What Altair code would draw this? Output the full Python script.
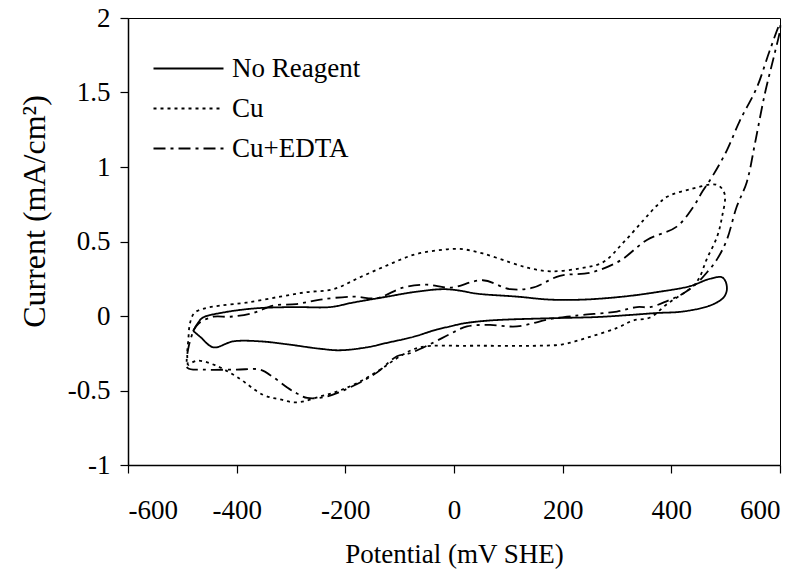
import altair as alt
import pandas as pd

series_names = ["No Reagent", "Cu", "Cu+EDTA"]

no_reagent_x = [-480, -470, -462, -430, -370, -296, -228, -186, -123, -75, -20, 11, 42, 116, 177, 237, 311, 373, 434, 471, 493, 500, 502, 495, 471, 421, 373, 324, 263, 177, 66, 17, -7, -31, -75, -123, -160, -210, -246, -307, -357, -406, -443, -467, -480]
no_reagent_y = [-0.10, -0.04, -0.01, 0.02, 0.05, 0.06, 0.06, 0.09, 0.13, 0.16, 0.18, 0.17, 0.15, 0.13, 0.11, 0.11, 0.13, 0.16, 0.20, 0.25, 0.26, 0.23, 0.17, 0.12, 0.07, 0.03, 0.02, 0.007, -0.007, -0.015, -0.03, -0.05, -0.07, -0.09, -0.14, -0.18, -0.21, -0.23, -0.22, -0.19, -0.17, -0.17, -0.21, -0.14, -0.10]

cu_x = [-490, -491, -489, -486, -478, -460, -430, -381, -320, -271, -222, -173, -123, -75, -31, 11, 53, 103, 140, 177, 232, 274, 311, 348, 373, 392, 434, 484, 498, 493, 484, 465, 452, 440, 392, 361, 330, 300, 250, 200, 145, 85, 24, -63, -99, -136, -173, -210, -246, -290, -320, -351, -399, -440, -473, -490]
cu_y = [-0.33, -0.25, -0.16, -0.05, 0.02, 0.05, 0.07, 0.09, 0.13, 0.16, 0.18, 0.26, 0.34, 0.41, 0.44, 0.45, 0.42, 0.36, 0.32, 0.30, 0.32, 0.36, 0.49, 0.64, 0.74, 0.80, 0.85, 0.88, 0.82, 0.66, 0.53, 0.38, 0.26, 0.20, 0.08, -0.01, -0.03, -0.08, -0.14, -0.19, -0.20, -0.20, -0.20, -0.21, -0.27, -0.36, -0.44, -0.50, -0.54, -0.58, -0.56, -0.53, -0.41, -0.33, -0.30, -0.33]

edta_x = [-480, -470, -443, -412, -370, -333, -290, -246, -186, -142, -94, -50, -7, 53, 103, 145, 195, 250, 305, 355, 410, 440, 458, 476, 502, 526, 557, 581, 600, 600, 590, 572, 554, 539, 520, 502, 484, 465, 447, 421, 392, 361, 337, 300, 237, 208, 177, 116, 66, 24, -7, -39, -81, -105, -142, -186, -234, -270, -289, -307, -333, -357, -400, -460, -490, -492, -488, -480]
edta_y = [-0.10, -0.05, -0.005, -0.005, 0.02, 0.07, 0.08, 0.11, 0.13, 0.12, 0.19, 0.21, 0.19, 0.24, 0.18, 0.19, 0.27, 0.29, 0.37, 0.51, 0.60, 0.73, 0.84, 0.94, 1.11, 1.31, 1.53, 1.78, 1.96, 1.92, 1.76, 1.49, 1.16, 0.90, 0.73, 0.51, 0.38, 0.29, 0.22, 0.15, 0.10, 0.06, 0.06, 0.03, 0.007, -0.005, -0.02, -0.07, -0.06, -0.07, -0.12, -0.18, -0.25, -0.27, -0.38, -0.47, -0.54, -0.55, -0.52, -0.48, -0.41, -0.36, -0.36, -0.36, -0.35, -0.30, -0.20, -0.10]

x_ticks = [-600, -400, -200, 0, 200, 400, 600]
y_ticks = [-1, -0.5, 0, 0.5, 1, 1.5, 2]

rows = []
for name, xs, ys in [("No Reagent", no_reagent_x, no_reagent_y), ("Cu", cu_x, cu_y), ("Cu+EDTA", edta_x, edta_y)]:
    for i, (xv, yv) in enumerate(zip(xs, ys)):
        rows.append({"series": name, "potential": xv, "current": yv, "order": i})
df = pd.DataFrame(rows)

FONT = "Times New Roman, Liberation Serif, serif"

chart = alt.Chart(df).mark_line(strokeWidth=1.8, color="black", interpolate="catmull-rom").encode(
    x=alt.X("potential:Q", scale=alt.Scale(domain=[-600, 600], nice=False, zero=False),
            axis=alt.Axis(values=x_ticks, title="Potential (mV SHE)", grid=False,
                          tickSize=8, labelPadding=24, titlePadding=18,
                          labelFont=FONT, titleFont=FONT, labelFontSize=27, titleFontSize=27,
                          labelExpr="datum.value + ''")),
    y=alt.Y("current:Q", scale=alt.Scale(domain=[-1, 2], nice=False, zero=False),
            axis=alt.Axis(values=y_ticks, title="Current (mA/cm²)", grid=False,
                          tickSize=8, labelPadding=10, titlePadding=16, titleY=193,
                          labelFont=FONT, titleFont=FONT, labelFontSize=27, titleFontSize=32,
                          labelExpr="datum.value + ''")),
    strokeDash=alt.StrokeDash("series:N",
                              scale=alt.Scale(domain=series_names, range=[[1, 0], [3, 4], [12, 5, 3, 5]]),
                              legend=alt.Legend(title=None, orient="none", legendX=42, legendY=32,
                                                symbolType="M-2,0H2", symbolSize=1225, symbolStrokeWidth=1.8,
                                                symbolStrokeColor="black", labelFont=FONT, labelFontSize=27,
                                                labelColor="black", labelOffset=25, rowPadding=8)),
    order="order:Q",
).properties(
    width=652, height=447,
    autosize=alt.AutoSizeParams(type="none"),
    padding={"left": 128, "top": 18, "right": 22, "bottom": 112},
).configure_view(
    stroke="black", strokeWidth=1
).configure_axis(
    labelFont=FONT, labelFontSize=27, labelColor="black",
    titleFont=FONT, titleColor="black", titleFontWeight="normal",
    domainColor="black", tickColor="black", domainWidth=1.5, tickWidth=1.2
)

chart.save("out.html", embed_options={"renderer": "svg", "actions": False})
